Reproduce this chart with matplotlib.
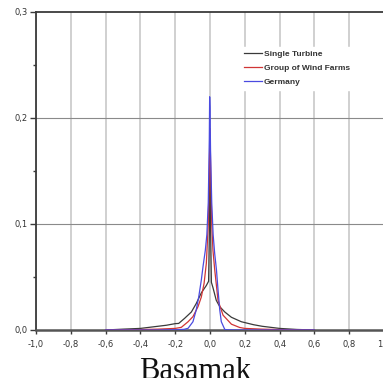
import matplotlib
matplotlib.use("Agg")
import matplotlib.pyplot as plt
from matplotlib import font_manager
from matplotlib.ticker import FixedLocator

# ---- data ----
single_x = [-0.6, -0.5, -0.4, -0.3, -0.25, -0.2, -0.18, -0.146, -0.107, -0.079, -0.05, -0.021,
            -0.008, -0.003, 0.0, 0.003, 0.008, 0.017, 0.036, 0.056, 0.085, 0.123, 0.18,
            0.2, 0.25, 0.3, 0.4, 0.5, 0.6]
single_y = [0.0, 0.0008, 0.0015, 0.0035, 0.0045, 0.006, 0.0062, 0.011, 0.017, 0.025, 0.035, 0.042,
            0.046, 0.10, 0.16, 0.10, 0.045, 0.04, 0.028, 0.022, 0.017, 0.012, 0.0078,
            0.007, 0.005, 0.0035, 0.0015, 0.0005, 0.0]

group_x = [-0.6, -0.5, -0.4, -0.3, -0.2, -0.165, -0.126, -0.098, -0.069, -0.05, -0.034, -0.021,
           -0.01, -0.004, 0.0, 0.004, 0.01, 0.017, 0.027, 0.046, 0.075, 0.123, 0.17,
           0.2, 0.3, 0.4, 0.5, 0.6]
group_y = [0.0, 0.0002, 0.0004, 0.0008, 0.0015, 0.0025, 0.0078, 0.0126, 0.022, 0.031, 0.044, 0.063,
           0.10, 0.15, 0.19, 0.15, 0.10, 0.075, 0.057, 0.028, 0.014, 0.0055, 0.0024,
           0.0015, 0.0008, 0.0004, 0.0001, 0.0]

germany_x = [-0.6, -0.3, -0.2, -0.15, -0.126, -0.098, -0.079, -0.065, -0.05, -0.04, -0.027, -0.018,
             -0.01, -0.004, -0.002, 0.0, 0.003, 0.01, 0.018, 0.027, 0.037, 0.046, 0.056, 0.065,
             0.085, 0.1, 0.15, 0.3, 0.6]
germany_y = [0.0, 0.0, 0.0002, 0.0006, 0.0016, 0.0078, 0.019, 0.031, 0.047, 0.060, 0.075, 0.09,
             0.12, 0.18, 0.22, 0.21, 0.17, 0.12, 0.09, 0.072, 0.057, 0.038, 0.019, 0.0078,
             0.0005, 0.0002, 0.0, 0.0, 0.0]

series_names = ["Single Turbine", "Group of Wind Farms", "Germany"]
x_ticks = [-1.0, -0.8, -0.6, -0.4, -0.2, 0.0, 0.2, 0.4, 0.6, 0.8, 1.0]
x_tick_labels = ["-1,0", "-0,8", "-0,6", "-0,4", "-0,2", "0,0", "0,2", "0,4", "0,6", "0,8", "1,0"]
y_ticks = [0.0, 0.1, 0.2, 0.3]
y_tick_labels = ["0,0", "0,1", "0,2", "0,3"]
x_label = "Basamak"

# pick a narrow font for the legend if one exists
names = {f.name for f in font_manager.fontManager.ttflist}
if "Liberation Sans Narrow" in names:
    leg_family, leg_size = "Liberation Sans Narrow", 6.8
else:
    leg_family, leg_size = "Liberation Sans", 6.0

# ---- figure ----
W, H = 383, 378
fig = plt.figure(figsize=(W / 100, H / 100), dpi=100)
ax = fig.add_axes([36 / W, 48 / H, 348 / W, 318 / H])

ax.set_xlim(-1, 1)
ax.set_ylim(0, 0.3)

# grid
for xv in x_ticks:
    ax.axvline(xv, color="#c4c4c4", lw=1.1, zorder=0)
for yv in [0.1, 0.2]:
    ax.axhline(yv, color="#8a8a8a", lw=0.8, zorder=0.5)

ax.plot(single_x, single_y, color="#3a3a3a", lw=0.9, label=series_names[0], zorder=3)
ax.plot(group_x, group_y, color="#d03535", lw=0.9, label=series_names[1], zorder=4)
ax.plot(germany_x, germany_y, color="#4a4ae0", lw=0.9, label=series_names[2], zorder=5)

# spines
for s in ["left", "top", "bottom"]:
    ax.spines[s].set_color("#3a3a3a")
    ax.spines[s].set_linewidth(1.3)
ax.spines["bottom"].set_linewidth(1.8)
ax.spines["bottom"].set_color("#555555")
ax.spines["right"].set_visible(False)

ax.set_xticks(x_ticks)
ax.set_xticklabels(x_tick_labels)
ax.set_yticks(y_ticks)
ax.set_yticklabels(y_tick_labels)
ax.yaxis.set_minor_locator(FixedLocator([0.05, 0.15, 0.25]))
ax.tick_params(axis="x", direction="out", length=3, width=1.0, colors="#3a3a3a",
               labelsize=6, labelcolor="#333333", pad=4)
ax.tick_params(axis="y", direction="out", length=4, width=1.0, colors="#3a3a3a",
               labelsize=6, labelcolor="#333333", pad=2)
ax.tick_params(axis="y", which="minor", direction="out", length=2, width=1.0, colors="#3a3a3a")

leg = ax.legend(loc="upper left", bbox_to_anchor=(241 / W, 1 - 47 / H),
                bbox_transform=fig.transFigure,
                prop={"family": leg_family, "weight": "bold", "size": leg_size},
                frameon=True, facecolor="white", edgecolor="white", framealpha=1,
                fancybox=False, handlelength=2.1, handletextpad=0.25, labelspacing=0.75,
                borderpad=0.4, borderaxespad=0)
for t in leg.get_texts():
    t.set_color("#333333")
leg.set_zorder(6)

fig.text(195 / W, -0.002, x_label, ha="center", va="baseline",
         family="Liberation Serif", fontsize=22, color="#111111")

fig.savefig("out.png", dpi=100)
